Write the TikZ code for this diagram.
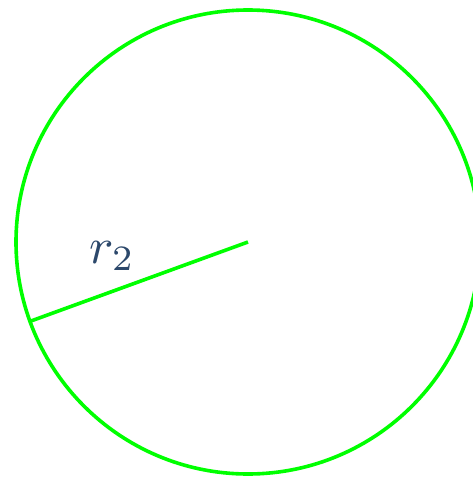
\documentclass[tikz,border=0pt]{standalone}
\usepackage{tikz}
\usetikzlibrary{calc}
\definecolor{ringcol}{RGB}{0,255,0}
\definecolor{labcol}{RGB}{44,72,107}
\tikzset{
  ring/.style={draw=ringcol,line width=3.6pt},
  radius line/.style={draw=ringcol,line width=3.6pt},
  lab/.style={text=labcol,scale=5.1,inner sep=0pt},
}
\begin{document}
\begin{tikzpicture}[x=1pt,y=-1pt]
  \useasboundingbox (0,0) rectangle (473,477);
  \coordinate (c) at (248,242);
  \draw[ring] (c) circle[radius=232pt];
  \coordinate (rim) at ($(c)+(160:232)$);
  \draw[radius line] (c) -- (rim);
  \node[lab] (r2) at (112,256) {$r_2$};
\end{tikzpicture}
\end{document}
